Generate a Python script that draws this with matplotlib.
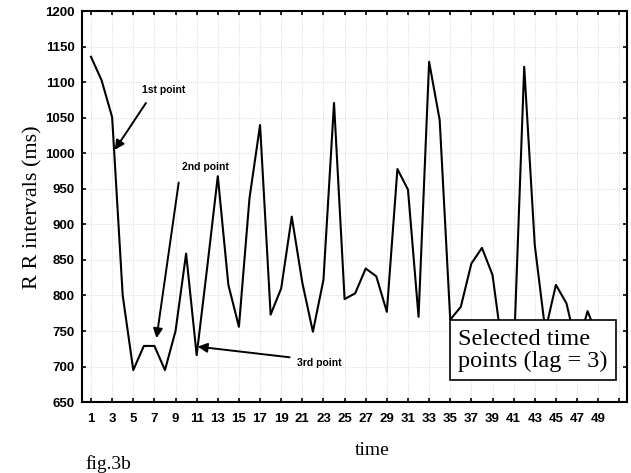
import numpy as np
import matplotlib
matplotlib.use("Agg")
import matplotlib.pyplot as plt

# RR interval series (ms), one value per beat
time = np.arange(1, 50)
rr = [1136, 1103, 1051, 800, 695, 729, 729, 695, 750, 859,
      716, 840, 968, 815, 756, 937, 1040, 773, 810, 911,
      818, 749, 822, 1071, 795, 803, 838, 827, 777, 978,
      949, 770, 1129, 1047, 766, 784, 845, 867, 829, 718,
      711, 1122, 871, 750, 815, 789, 725, 778, 740]

x_ticks = np.arange(1, 52, 2)
x_labels = [str(t) for t in range(1, 50, 2)] + [""]
y_ticks = np.arange(650, 1201, 50)

# arrow annotations: (text, text pos, arrow tail, arrow head)
notes = [
    ("1st point", (5.8, 1082), (6.2, 1071), (3.25, 1005)),
    ("2nd point", (9.6, 974), (9.3, 959), (7.2, 740)),
    ("3rd point", (20.5, 705), (19.8, 713), (11.1, 728)),
]

fig = plt.figure(figsize=(6.31, 4.73), dpi=100)
ax = fig.add_axes([0.130, 0.150, 0.864, 0.826])

ax.plot(time, rr, color="black", lw=1.5, zorder=3)

ax.set_xlim(0.15, 51.75)
ax.set_ylim(650, 1200)
ax.set_xticks(x_ticks)
ax.set_xticklabels(x_labels)
ax.set_yticks(y_ticks)
ax.tick_params(direction="in", top=True, right=True, length=3, width=1.2,
               labelsize=9.5)
for lab in ax.get_xticklabels() + ax.get_yticklabels():
    lab.set_family("Liberation Sans")
    lab.set_fontweight("bold")
ax.tick_params(axis="x", pad=8)
ax.tick_params(axis="y", pad=5)
for s in ax.spines.values():
    s.set_linewidth(1.5)
ax.grid(True, color="#d0d0d0", ls=":", lw=0.6)

ax.set_ylabel("R R intervals (ms)", family="Liberation Serif", fontsize=16,
              labelpad=2)
fig.text(0.59, 0.047, "time", family="Liberation Serif", fontsize=14,
         ha="center", va="center")
fig.text(0.135, 0.0, "fig.3b", family="Liberation Serif", fontsize=14,
         ha="left", va="bottom")

for txt, tpos, tail, head in notes:
    ax.text(tpos[0], tpos[1], txt, fontsize=7.5, fontweight="bold",
            family="Liberation Sans", va="bottom" if txt != "3rd point" else "center")
    ax.annotate("", xy=head, xytext=tail,
                arrowprops=dict(arrowstyle="-|>", color="black", lw=1.4,
                                mutation_scale=14, shrinkA=0, shrinkB=0))

ax.text(0.69, 0.132, "Selected time\npoints (lag = 3)", transform=ax.transAxes,
        family="Liberation Serif", fontsize=17.5, linespacing=1.05,
        ha="left", va="center", zorder=5,
        bbox=dict(boxstyle="square,pad=0.35", fc="white", ec="black", lw=1.2))

fig.savefig("out.png", dpi=100)
